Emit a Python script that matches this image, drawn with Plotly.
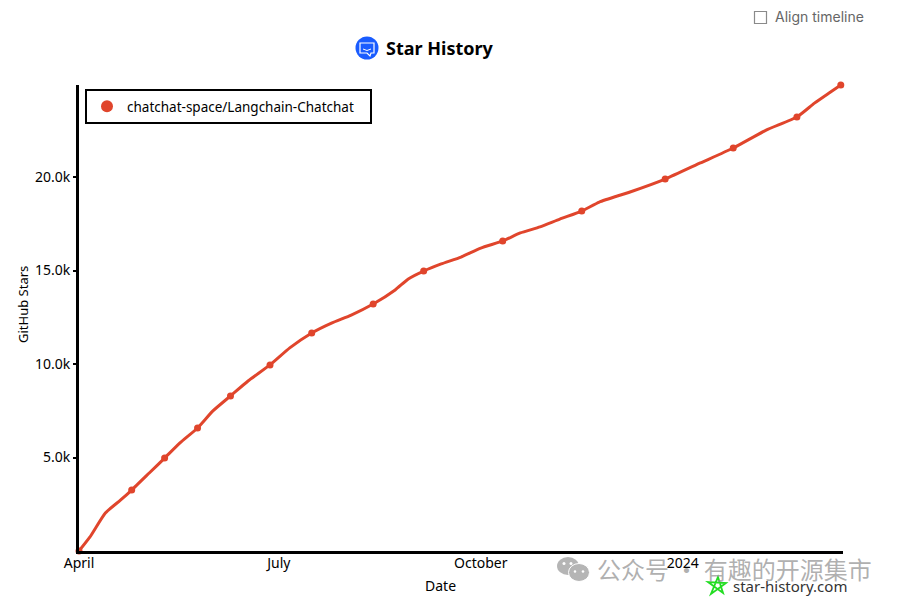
import plotly.graph_objects as go

W, H = 899, 604
L, R, T, B = 79, 843, 85, 551

series_name = "chatchat-space/Langchain-Chatchat"
dates = ["2023-04-01","2023-04-06","2023-04-13","2023-04-20","2023-04-25","2023-05-03","2023-05-10","2023-05-17",
         "2023-05-25","2023-06-01","2023-06-09","2023-06-17","2023-06-27","2023-07-06","2023-07-16","2023-07-25",
         "2023-08-03","2023-08-13","2023-08-23","2023-08-29","2023-09-05","2023-09-13","2023-09-22","2023-10-01",
         "2023-10-11","2023-10-19","2023-10-28","2023-11-06","2023-11-16","2023-11-24","2023-12-08","2023-12-24",
         "2024-01-09","2024-01-24","2024-02-08","2024-02-22","2024-03-01","2024-03-08","2024-03-13"]
stars = [0,750,2030,2730,3260,4170,4970,5780,6580,7490,8290,9090,9950,10860,11660,12190,12620,13210,13960,14550,
         14970,15350,15720,16200,16580,17010,17330,17750,18180,18660,19200,19890,20750,21550,22510,23210,23950,24520,24920]
marker_dates = ["2023-04-01","2023-04-25","2023-05-10","2023-05-25","2023-06-09","2023-06-27","2023-07-16","2023-08-13",
                "2023-09-05","2023-10-11","2023-11-16","2023-12-24","2024-01-24","2024-02-22","2024-03-13"]
marker_stars = [0,3260,4970,6580,8290,9950,11660,13210,14970,16580,18180,19890,21550,23210,24920]

x_tick_vals = ["2023-04-01","2023-07-01","2023-10-01","2024-01-01"]
x_tick_text = ["April","July","October","2024"]
y_tick_vals = [5000,10000,15000,20000]
y_tick_text = ["5.0k","10.0k","15.0k","20.0k"]

LINE = "#e0452c"
FONT = "Noto Sans"
CJK = "Noto Sans CJK SC"

def px(x): return (x - L) / (R - L)
def py(y): return (B - y) / (B - T)

def poly(points, close=True):
    return "M " + " L ".join(f"{px(a):.5f},{py(b):.5f}" for a, b in points) + (" Z" if close else "")

fig = go.Figure()
fig.add_trace(go.Scatter(x=dates, y=stars, mode="lines", name=series_name, showlegend=False,
                         line=dict(color=LINE, width=3, shape="spline", smoothing=0.5), cliponaxis=False, hoverinfo="skip"))
fig.add_trace(go.Scatter(x=marker_dates, y=marker_stars, mode="markers", name=series_name,
                         marker=dict(color=LINE, size=7, symbol="circle"), cliponaxis=False))

def oval(cx, cy, rx, ry, **kw):
    return dict(type="circle", xref="paper", yref="paper", x0=px(cx-rx), x1=px(cx+rx),
                y0=py(cy+ry), y1=py(cy-ry), **kw)

star_pts = [(718,577),(723,593),(708,582),(726,583),(711,594)]
chat_pts = [(360,43),(374,43),(374,53),(371,53),(370,56),(367,53),(360,53)]
shapes = [
    oval(367, 48, 11.5, 11.5, fillcolor="#1a5cff", line=dict(width=0)),
    dict(type="path", xref="paper", yref="paper", path=poly(chat_pts),
         fillcolor="rgba(0,0,0,0)", line=dict(color="white", width=1.2)),
    dict(type="path", xref="paper", yref="paper", path=poly([(363,49),(367,50.5),(371,49)], close=False),
         fillcolor="rgba(0,0,0,0)", line=dict(color="white", width=1)),
    dict(type="rect", xref="paper", yref="paper", x0=px(754.5), x1=px(766.5), y0=py(23.5), y1=py(11.5),
         fillcolor="white", line=dict(color="#8a8a8a", width=1.2)),
    oval(568, 566, 11, 9, fillcolor="#b5b5b5", line=dict(width=0)),
    oval(579, 572.5, 10.5, 9, fillcolor="#b5b5b5", line=dict(color="white", width=1)),
    oval(564, 563.5, 1.5, 1.5, fillcolor="white", line=dict(width=0)),
    oval(571, 563.5, 1.5, 1.5, fillcolor="white", line=dict(width=0)),
    oval(575, 571.5, 1.3, 1.3, fillcolor="white", line=dict(width=0)),
    oval(583, 571.5, 1.3, 1.3, fillcolor="white", line=dict(width=0)),
    dict(type="path", xref="paper", yref="paper", path=poly(star_pts),
         fillcolor="rgba(0,0,0,0)", line=dict(color="#22dd22", width=1.8)),
]

def ann(text, x, y, size, color="#000", family=FONT, anchor="left", angle=0):
    return dict(text=text, xref="paper", yref="paper", x=px(x), y=py(y), xanchor=anchor, yanchor="middle",
                showarrow=False, textangle=angle, font=dict(size=size, color=color, family=family))

annotations = [
    ann("<b>Star History</b>", 384, 48, 18),
    ann("Align timeline", 773, 17, 14, "#666666", "Inter"),
    ann("GitHub Stars", 23, 305, 13, angle=-90, anchor="center"),
    ann("Date", 440, 585, 14, anchor="center"),
    ann("公众号 · 有趣的开源集市", 595, 568, 24, "rgba(150,150,150,0.75)", CJK),
    ann("star-history.com", 731, 586, 15, "#333333"),
]

fig.update_layout(
    width=W, height=H, margin=dict(l=L, r=W-R, t=T, b=H-B),
    paper_bgcolor="white", plot_bgcolor="white",
    showlegend=True,
    legend=dict(orientation="h", x=px(85), y=py(89), xanchor="left", yanchor="top", bgcolor="white",
                bordercolor="black", borderwidth=2, font=dict(size=13.5, family=FONT, color="#000"),
                entrywidth=238, entrywidthmode="pixels", itemsizing="constant", itemwidth=30),
    shapes=shapes, annotations=annotations,
    xaxis=dict(type="date", range=["2023-04-01","2024-03-14"], tickmode="array",
               tickvals=x_tick_vals, ticktext=x_tick_text, showgrid=False, zeroline=False,
               showline=True, linecolor="black", linewidth=3, ticks="", ticklabelstandoff=-3,
               tickfont=dict(size=14, family=FONT, color="#000")),
    yaxis=dict(range=[0,24920], tickmode="array", tickvals=y_tick_vals, ticktext=y_tick_text,
               showgrid=False, zeroline=False, showline=True, linecolor="black", linewidth=3,
               ticks="outside", ticklen=3, tickwidth=2, tickcolor="black",
               tickfont=dict(size=14, family=FONT, color="#000")),
)

fig.write_html("out.html", config=dict(displayModeBar=False),
               post_script="document.body.style.margin='0';")
